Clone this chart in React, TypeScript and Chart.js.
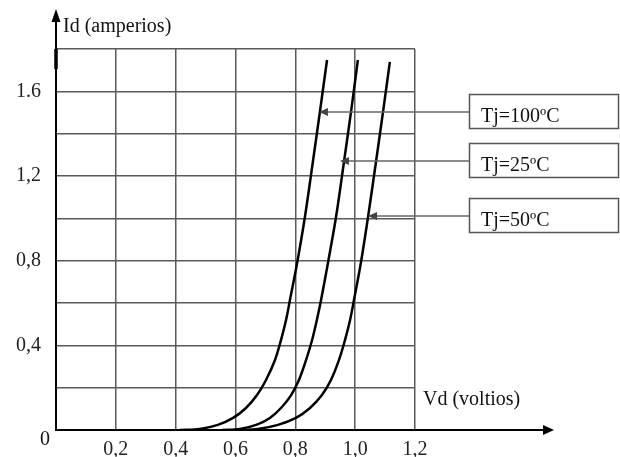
import React, { useEffect, useRef } from "react";
import { Chart, registerables } from "chart.js";

Chart.register(...registerables);

// Tj = 100 ºC curve (Vd in volts, Id in amperes)
const vd100 = [0.414, 0.481, 0.541, 0.592, 0.635, 0.672, 0.702, 0.732, 0.752, 0.769, 0.782, 0.806, 0.832, 0.859, 0.882, 0.906];
const id100 = [0, 0.005, 0.024, 0.057, 0.104, 0.165, 0.236, 0.331, 0.425, 0.52, 0.614, 0.789, 1.006, 1.271, 1.502, 1.748];
// Tj = 25 ºC curve
const vd25 = [0.555, 0.615, 0.669, 0.715, 0.752, 0.786, 0.812, 0.836, 0.856, 0.872, 0.886, 0.909, 0.936, 0.963, 0.986, 1.009];
const id25 = [0, 0.005, 0.024, 0.057, 0.104, 0.165, 0.236, 0.331, 0.425, 0.52, 0.614, 0.789, 1.006, 1.271, 1.502, 1.748];
// Tj = 50 ºC curve
const vd50 = [0.602, 0.675, 0.742, 0.802, 0.849, 0.889, 0.919, 0.946, 0.966, 0.983, 0.996, 1.019, 1.043, 1.07, 1.093, 1.116];
const id50 = [0, 0.005, 0.024, 0.057, 0.104, 0.165, 0.236, 0.331, 0.425, 0.52, 0.614, 0.789, 1.006, 1.271, 1.502, 1.739];

const xTickLabels = ["", "0,2", "0,4", "0,6", "0,8", "1,0", "1,2"];
const yTickLabels = ["", "", "0,4", "", "0,8", "", "1,2", "", "1.6", ""];

// Callout labels and the point (Vd, Id) that each arrow points to
const calloutTexts = ["Tj=100ºC", "Tj=25ºC", "Tj=50ºC"];
const calloutVd = [0.879, 0.949, 1.043];
const calloutId = [1.502, 1.271, 1.011];

const FONT = "Liberation Serif, 'Times New Roman', serif";

const toPoints = (xs: number[], ys: number[]) => xs.map((x, i) => ({ x, y: ys[i] }));

const overlay = {
  id: "overlay",
  afterDraw(chart: any) {
    const ctx = chart.ctx as CanvasRenderingContext2D;
    const { left, bottom, top } = chart.chartArea;
    const xs = chart.scales.x;
    const ys = chart.scales.y;
    ctx.save();
    // x axis extension with arrow
    ctx.strokeStyle = "#000";
    ctx.fillStyle = "#000";
    ctx.lineWidth = 2;
    ctx.beginPath();
    ctx.moveTo(left, bottom);
    ctx.lineTo(545, bottom);
    ctx.stroke();
    ctx.beginPath();
    ctx.moveTo(554, bottom);
    ctx.lineTo(543, bottom - 5);
    ctx.lineTo(543, bottom + 5);
    ctx.closePath();
    ctx.fill();
    // y axis extension with arrow
    ctx.lineWidth = 2;
    ctx.beginPath();
    ctx.moveTo(left, bottom);
    ctx.lineTo(left, 18);
    ctx.stroke();
    ctx.beginPath();
    ctx.moveTo(left, 9);
    ctx.lineTo(left - 4.5, 22);
    ctx.lineTo(left + 4.5, 22);
    ctx.closePath();
    ctx.fill();
    ctx.lineWidth = 3.5;
    ctx.beginPath();
    ctx.moveTo(left, top);
    ctx.lineTo(left, top + 20);
    ctx.stroke();

    // axis titles and origin
    ctx.font = `20px ${FONT}`;
    ctx.fillStyle = "#111";
    ctx.textBaseline = "alphabetic";
    ctx.textAlign = "left";
    ctx.fillText("Id (amperios)", 63, 32);
    ctx.fillText("Vd (voltios)", 423, 405);
    ctx.fillText("0", 40, 445);

    // callouts
    calloutTexts.forEach((t, i) => {
      const tx = xs.getPixelForValue(calloutVd[i]);
      const ty = ys.getPixelForValue(calloutId[i]);
      const boxLeft = 469.5;
      const boxTop = Math.round(ty) - 17.5;
      ctx.strokeStyle = "#555";
      ctx.lineWidth = 1.5;
      ctx.strokeRect(boxLeft, boxTop, 149, 34);
      ctx.fillStyle = "#111";
      ctx.fillText(t, 481, boxTop + 27);
      ctx.strokeStyle = "#666";
      ctx.lineWidth = 1.5;
      ctx.beginPath();
      ctx.moveTo(boxLeft, ty);
      ctx.lineTo(tx + 8, ty);
      ctx.stroke();
      ctx.fillStyle = "#444";
      ctx.beginPath();
      ctx.moveTo(tx, ty);
      ctx.lineTo(tx + 9, ty - 4);
      ctx.lineTo(tx + 9, ty + 4);
      ctx.closePath();
      ctx.fill();
    });
    ctx.restore();
  },
};

export default function App() {
  const ref = useRef<HTMLCanvasElement>(null);
  useEffect(() => {
    if (!ref.current) return;
    const lineStyle = {
      borderColor: "#000",
      borderWidth: 2.5,
      pointRadius: 0,
      fill: false,
      tension: 0.35,
    };
    const chart = new Chart(ref.current, {
      type: "line",
      data: {
        datasets: [
          { label: "Tj=100ºC", data: toPoints(vd100, id100), ...lineStyle },
          { label: "Tj=25ºC", data: toPoints(vd25, id25), ...lineStyle },
          { label: "Tj=50ºC", data: toPoints(vd50, id50), ...lineStyle },
        ],
      },
      options: {
        responsive: false,
        animation: false,
        layout: { padding: { left: 0, top: 49, right: 205, bottom: 0 } },
        plugins: { legend: { display: false }, tooltip: { enabled: false } },
        scales: {
          x: {
            type: "linear",
            min: 0,
            max: 1.2,
            afterFit: (s: any) => {
              s.height = 27;
            },
            grid: { color: "#5a5a5a", lineWidth: 1.5, drawTicks: false },
            border: { color: "#000", width: 2 },
            ticks: {
              stepSize: 0.2,
              padding: 8,
              autoSkip: false,
              maxRotation: 0,
              color: "#222",
              font: { family: FONT, size: 20 },
              callback: (_v: any, i: number) => xTickLabels[i] ?? "",
            },
          },
          y: {
            type: "linear",
            min: 0,
            max: 1.8,
            afterFit: (s: any) => {
              s.width = 56;
            },
            grid: { color: "#5a5a5a", lineWidth: 1.5, drawTicks: false },
            border: { color: "#000", width: 2 },
            ticks: {
              stepSize: 0.2,
              padding: 15,
              autoSkip: false,
              color: "#222",
              font: { family: FONT, size: 20 },
              callback: (_v: any, i: number) => yTickLabels[i] ?? "",
            },
          },
        },
      },
      plugins: [overlay],
    });
    return () => chart.destroy();
  }, []);
  return (
    <div style={{ position: "fixed", left: 0, top: 0, width: 620, height: 457, background: "#fff" }}>
      <canvas ref={ref} width={620} height={457} style={{ display: "block" }} />
    </div>
  );
}
